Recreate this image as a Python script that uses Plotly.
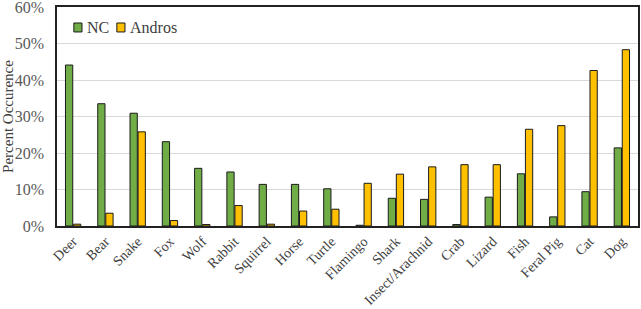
import plotly.graph_objects as go

categories = ["Deer", "Bear", "Snake", "Fox", "Wolf", "Rabbit", "Squirrel", "Horse", "Turtle",
              "Flamingo", "Shark", "Insect/Arachnid", "Crab", "Lizard", "Fish", "Feral Pig", "Cat", "Dog"]
nc = [44.1, 33.5, 30.9, 23.1, 15.8, 14.8, 11.4, 11.4, 10.2, 0.2, 7.6, 7.3, 0.4, 7.9, 14.3, 2.5, 9.4, 21.4]
andros = [0.5, 3.5, 25.8, 1.5, 0.4, 5.6, 0.5, 4.1, 4.6, 11.7, 14.2, 16.2, 16.8, 16.8, 26.5, 27.5, 42.6, 48.3]
y_ticks = [0, 10, 20, 30, 40, 50, 60]
series_names = ["NC", "Andros"]
series_colors = ["#70AD47", "#FFC000"]

font = "Liberation Serif, Times New Roman, serif"
outline = "#1a1a1a"

fig = go.Figure()
for name, vals, col in zip(series_names, [nc, andros], series_colors):
    fig.add_trace(go.Bar(name=name, x=categories, y=vals,
                         marker=dict(color=col, line=dict(color=outline, width=1))))

# compact legend (squares + text) like the original
leg_x = [0.029, 0.103]
for i, (name, col) in enumerate(zip(series_names, series_colors)):
    x0 = leg_x[i]
    fig.add_shape(type="rect", xref="paper", yref="paper", x0=x0, x1=x0 + 0.014, y0=0.886, y1=0.927,
                  fillcolor=col, line=dict(color=outline, width=1))
    fig.add_annotation(xref="paper", yref="paper", x=x0 + 0.019, y=0.906, text=name, showarrow=False,
                       xanchor="left", yanchor="middle", font=dict(family=font, size=16, color="#404040"))

fig.update_layout(
    width=641, height=309,
    margin=dict(l=57, r=3, t=7, b=83, autoexpand=False),
    paper_bgcolor="white", plot_bgcolor="white",
    barmode="group", bargap=0.5, bargroupgap=0.1,
    font=dict(family=font, size=13, color="#595959"),
    showlegend=False,
)
fig.update_xaxes(tickangle=-45, showline=True, linecolor="#222", linewidth=1.5, mirror=True,
                 ticks="", tickfont=dict(family=font, size=14, color="#404040"))
fig.update_yaxes(range=[0, 60], tickvals=y_ticks, ticktext=[f"{v}%" for v in y_ticks],
                 showgrid=True, gridcolor="#d9d9d9", gridwidth=1, showline=True, linecolor="#222", linewidth=1.5,
                 mirror=True, ticks="", zeroline=False, ticklabeloverflow="allow", ticklabelstandoff=8,
                 title=dict(text="Percent Occurence", font=dict(family=font, size=15, color="#404040"), standoff=4),
                 tickfont=dict(family=font, size=16, color="#595959"))

fig.write_html("out.html", config={"displayModeBar": False},
               post_script="document.body.style.margin='0';")
